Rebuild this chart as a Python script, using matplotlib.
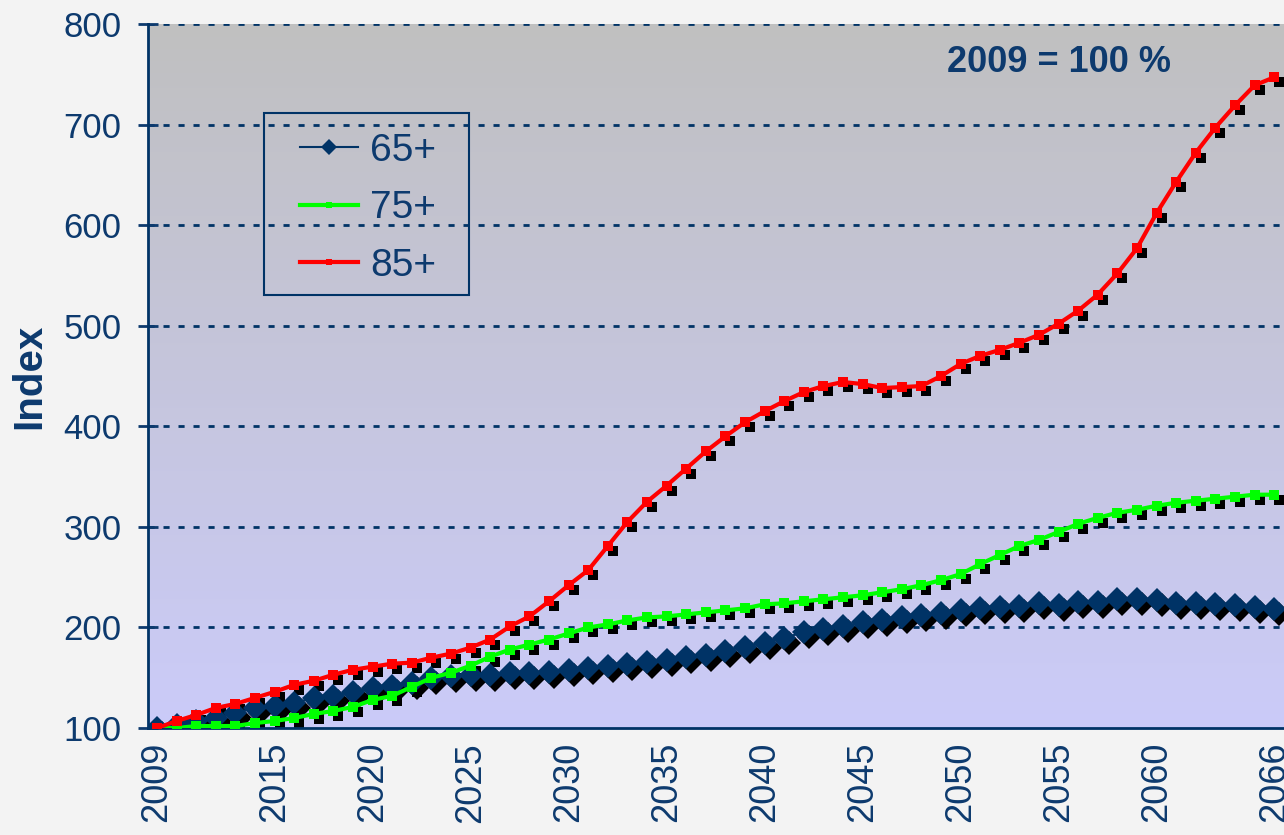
import numpy as np
import matplotlib
matplotlib.use('Agg')
import matplotlib.pyplot as plt
import matplotlib.transforms as mtransforms
from matplotlib.colors import LinearSegmentedColormap
from matplotlib.patches import Rectangle

plt.rcParams['font.family'] = ['Liberation Sans', 'DejaVu Sans']

NAVY = '#0D3A6E'

# Index values, 2009 = 100
years = list(range(2009, 2067))
age65 = [100, 103, 107, 110, 115, 120, 122, 125, 130, 132,
         136, 140, 142, 145, 150, 152, 153, 153, 155, 155,
         156, 158, 160, 162, 164, 166, 168, 171, 173, 177,
         181, 185, 190, 195, 198, 201, 205, 207, 210, 212,
         214, 217, 219, 220, 221, 224, 222, 225, 225, 228,
         228, 227, 224, 224, 223, 222, 220, 218]
age75 = [100, 100, 102, 102, 102, 105, 107, 110, 114, 117,
         121, 128, 132, 141, 150, 155, 162, 171, 178, 183,
         188, 194, 200, 203, 207, 210, 211, 213, 215, 217,
         219, 223, 224, 226, 228, 230, 232, 235, 238, 242,
         247, 253, 263, 272, 281, 287, 295, 303, 309, 314,
         317, 321, 324, 326, 328, 330, 332, 332]
age85 = [100, 107, 113, 120, 124, 130, 136, 143, 147, 153,
         158, 161, 164, 165, 170, 174, 180, 188, 201, 211,
         226, 242, 257, 281, 305, 325, 341, 358, 375, 390,
         404, 415, 425, 434, 440, 444, 442, 438, 439, 440,
         450, 462, 470, 476, 483, 491, 502, 515, 531, 552,
         577, 612, 643, 672, 697, 719, 739, 747]
xticks = [2009, 2015, 2020, 2025, 2030, 2035, 2040, 2045, 2050, 2055, 2060, 2066]

fig = plt.figure(figsize=(12.84, 8.35), dpi=100, facecolor='#F3F3F3')
ax = fig.add_axes([0.1153, 0.1281, 0.8847, 0.8432])

x0, x1 = 2008.54, 2066.5
y0, y1 = 100, 800

# gradient background: grey at top, lavender at bottom
cmap = LinearSegmentedColormap.from_list('bg', ['#CBCBF9', '#C0C0C0'])
grad = np.linspace(0, 1, 256).reshape(-1, 1)
ax.imshow(grad, cmap=cmap, aspect='auto', extent=[x0, x1, y0, y1],
          origin='lower', zorder=0)

# dotted gridlines
for v in range(200, 801, 100):
    ax.axhline(v, color='#003366', lw=2, ls=(0, (2.2, 3.2)), zorder=1)

shadow = mtransforms.offset_copy(ax.transData, fig=fig, x=5, y=-5, units='dots')

# black marker shadows
ax.plot(years, age65, 'D', color='black', ms=12, mew=0, transform=shadow, zorder=2)
ax.plot(years, age75, 's', color='black', ms=7, mew=0, transform=shadow, zorder=2)
ax.plot(years, age85, 's', color='black', ms=7, mew=0, transform=shadow, zorder=2)

ax.plot(years, age65, '-D', color='#003366', lw=1.5, ms=12, mew=0, zorder=3, label='65+')
ax.plot(years, age75, '-s', color='#00FF00', lw=3, ms=7, mew=0, zorder=4, label='75+')
ax.plot(years, age85, '-s', color='#FF0000', lw=3, ms=7, mew=0, zorder=5, label='85+')

ax.set_xlim(x0, x1)
ax.set_ylim(y0, y1)
ax.set_xticks(xticks)
ax.set_xticklabels([str(y) for y in xticks], rotation=90)
ax.set_yticks(range(100, 801, 100))

for side in ['top', 'right']:
    ax.spines[side].set_visible(False)
for side in ['left', 'bottom']:
    ax.spines[side].set_color('#003366')
    ax.spines[side].set_linewidth(2)

ax.tick_params(axis='y', labelsize=25, colors=NAVY, direction='inout',
               length=14, width=2, pad=12)
ax.tick_params(axis='x', labelsize=26, colors=NAVY, length=0, pad=10)
ax.set_ylabel('Index', fontsize=29, fontweight='bold', color=NAVY, labelpad=11)

ax.text(0.703, 0.945, '2009 = 100 %', transform=ax.transAxes, fontsize=26,
        fontweight='bold', color=NAVY, ha='left', va='center')

# legend box drawn separately
ax.add_patch(Rectangle((0.102, 0.615), 0.1805, 0.2585, transform=ax.transAxes,
                       facecolor='none', edgecolor='#003366', lw=1.5, zorder=6))
leg = ax.legend(loc='upper left', bbox_to_anchor=(0.1338, 0.845), fontsize=28,
                frameon=False, handlelength=1.5, handletextpad=0.3,
                labelspacing=0.55, borderpad=0, borderaxespad=0, markerscale=0.7)
for t in leg.get_texts():
    t.set_color(NAVY)

fig.savefig('out.png', dpi=100, facecolor=fig.get_facecolor())
